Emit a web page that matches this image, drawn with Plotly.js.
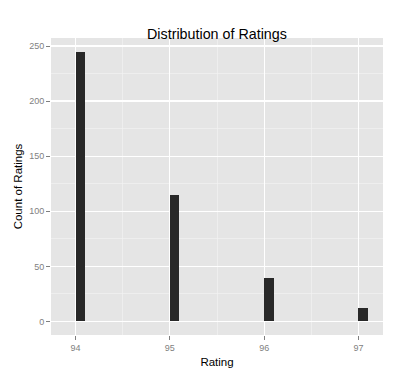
<!DOCTYPE html>
<html>
<head>
<meta charset="utf-8">
<script src="https://cdn.plot.ly/plotly-3.0.1.min.js"></script>
<style>html,body{margin:0;padding:0;background:#fff;}#chart{width:403px;height:377px;}</style>
</head>
<body>
<div id="chart"></div>
<script>
const ratings = [94, 95, 96, 97];
const counts = [245, 115, 39, 12];
const xTicks = [94, 95, 96, 97];
const yTicks = [0, 50, 100, 150, 200, 250];

const trace = {
  type: 'bar',
  x: ratings,
  y: counts,
  width: 0.1,
  offset: 0,
  marker: {color: '#282828', line: {width: 0}},
  hoverinfo: 'x+y'
};

const axisCommon = {
  showline: false,
  zeroline: false,
  gridcolor: '#FFFFFF',
  gridwidth: 1.3,
  ticks: 'outside',
  ticklen: 4,
  tickcolor: '#7F7F7F',
  tickwidth: 1,
  tickfont: {family: 'Liberation Sans, Arial, sans-serif', size: 9, color: '#7F7F7F'},
  fixedrange: true
};

const layout = {
  width: 403,
  height: 377,
  margin: {l: 51, r: 20, t: 38, b: 42},
  paper_bgcolor: '#FFFFFF',
  plot_bgcolor: '#E5E5E5',
  showlegend: false,
  bargap: 0,
  title: {
    text: 'Distribution of Ratings',
    font: {family: 'Liberation Sans, Arial, sans-serif', size: 14.3, color: '#000000'},
    x: 0.5384, xanchor: 'center',
    y: 0.897, yanchor: 'bottom'
  },
  xaxis: Object.assign({}, axisCommon, {
    range: [93.74, 97.26],
    tickvals: xTicks,
    ticktext: xTicks.map(String),
    minor: {tickvals: [94.5, 95.5, 96.5], showgrid: true, gridcolor: '#F2F2F2', gridwidth: 0.7, ticks: ''},
    title: {text: 'Rating', font: {family: 'Liberation Sans, Arial, sans-serif', size: 11.5, color: '#000000'}, standoff: 6}
  }),
  yaxis: Object.assign({}, axisCommon, {
    range: [-12.3, 257.3],
    tickvals: yTicks,
    ticktext: yTicks.map(String),
    minor: {tickvals: [25, 75, 125, 175, 225], showgrid: true, gridcolor: '#F2F2F2', gridwidth: 0.7, ticks: ''},
    title: {text: 'Count of Ratings', font: {family: 'Liberation Sans, Arial, sans-serif', size: 11.5, color: '#000000'}, standoff: 4}
  })
};

Plotly.newPlot('chart', [trace], layout, {displayModeBar: false, staticPlot: true});
</script>
</body>
</html>
